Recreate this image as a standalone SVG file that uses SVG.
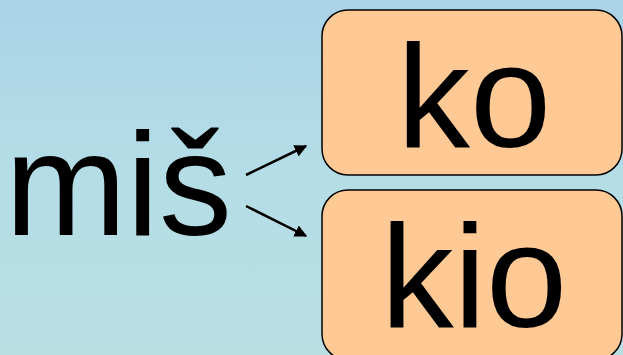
<svg xmlns="http://www.w3.org/2000/svg" width="623" height="355" viewBox="0 0 623 355">
<defs>
<linearGradient id="bg" x1="0" y1="0" x2="0" y2="1">
<stop offset="0" stop-color="#aad3e8"/>
<stop offset="0.5" stop-color="#b5dde6"/>
<stop offset="1" stop-color="#b9dfe3"/>
</linearGradient>
<marker id="arr" viewBox="0 0 10 10" refX="9" refY="5" markerWidth="5" markerHeight="5" orient="auto" markerUnits="strokeWidth">
<path d="M0,0 L10,5 L0,10 z" fill="#000"/>
</marker>
<style>
.t{font-family:"Liberation Sans",Arial,sans-serif;font-size:146px;fill:#000}
.box{fill:#fec995;stroke:#000;stroke-width:1.5}
.con{stroke:#000;stroke-width:2.5;fill:none}
</style>
</defs>
<rect width="623" height="355" fill="url(#bg)"/>
<g id="mis"><text class="t" x="5" y="235">miš</text></g>
<g id="ko"><rect class="box" x="322" y="10" width="300" height="165" rx="26"/><text class="t" x="474" y="147" text-anchor="middle">ko</text></g>
<g id="kio"><rect class="box" x="322" y="190" width="300" height="170" rx="26"/><text class="t" x="474" y="327" text-anchor="middle">kio</text></g>
<g id="connectors">
<line class="con" x1="246" y1="175" x2="306" y2="146" marker-end="url(#arr)"/>
<line class="con" x1="246" y1="206" x2="306" y2="236" marker-end="url(#arr)"/>
</g>
</svg>
